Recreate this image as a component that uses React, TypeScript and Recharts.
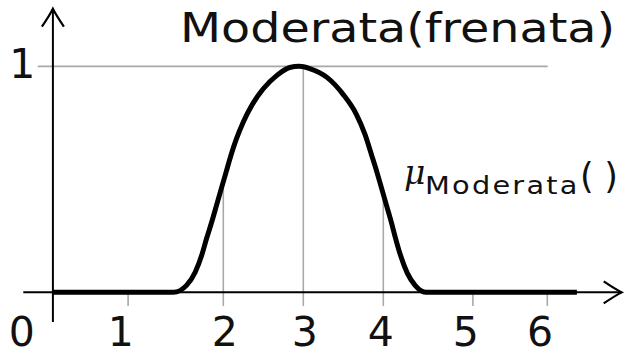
import { LineChart, Line, XAxis, YAxis, ReferenceLine } from "recharts";

// membership curve
const curveX = [
  -0.13, 1.375, 1.54, 1.65, 1.73, 1.79, 1.855, 1.915, 1.975, 2.035, 2.095, 2.165, 2.25, 2.355, 2.5, 2.67, 2.83, 2.95,
  3.08, 3.3, 3.5, 3.66, 3.77, 3.855, 3.92, 3.98, 4.04, 4.1, 4.155, 4.215, 4.3, 4.4, 4.54, 6.42,
];
const curveY = [
  0, 0, 0.031, 0.09, 0.164, 0.237, 0.311, 0.385, 0.459, 0.532, 0.606, 0.68, 0.754, 0.827, 0.901, 0.96, 0.995, 1,
  0.99, 0.95, 0.875, 0.79, 0.7, 0.606, 0.532, 0.459, 0.385, 0.311, 0.237, 0.164, 0.085, 0.03, 0, 0,
];

// x labels sit a bit off the tick marks in the original
const tickLabels = ["0", "1", "2", "3", "4", "5", "6"];
const tickLabelPos = [-0.52, 0.72, 2.02, 3.02, 3.97, 5.03, 5.96];

// gray tick marks / drop lines
const guideX = [0.81, 2, 3, 4, 5.12, 6.05];
const guideTop = [0, 0.46, 1, 0.43, 0, 0];
const guideBottom = -0.06;

const yTicks = [1];

const data = curveX.map((x, i) => ({ x, y: curveY[i] }));

const FONT = "'DejaVu Sans', sans-serif";
const GRAY = "#a8a8a8";

function XTick(props: any) {
  const { x, y, payload } = props;
  const i = tickLabelPos.indexOf(payload.value);
  return (
    <text x={x} y={y} dy={14} textAnchor="middle" fontFamily={FONT} fontSize={41} fill="#111">
      {tickLabels[i]}
    </text>
  );
}

function YTick(props: any) {
  const { x, y, payload } = props;
  return (
    <text x={x + 15} y={y} dy={11.5} textAnchor="middle" fontFamily={FONT} fontSize={41} fill="#111">
      {payload.value}
    </text>
  );
}

export default function App() {
  return (
    <div style={{ position: "absolute", left: 0, top: 0, width: 625, height: 355, background: "#fff" }}>
      <svg width={0} height={0} style={{ position: "absolute" }}>
        <defs>
          <marker
            id="arrowHead"
            markerUnits="userSpaceOnUse"
            viewBox="-22 -14 26 28"
            refX={0}
            refY={0}
            markerWidth={26}
            markerHeight={28}
            orient="auto"
          >
            <path d="M -18 -11 Q -6 -3 0 0 Q -6 3 -18 11" fill="none" stroke="#000" strokeWidth={2.2} />
          </marker>
        </defs>
      </svg>
      <LineChart width={625} height={355} data={data} margin={{ top: 7.6, right: 1.7, bottom: 0, left: 0 }}>
        <XAxis
          type="number"
          dataKey="x"
          domain={[-0.6, 7]}
          ticks={tickLabelPos}
          interval={0}
          tick={<XTick />}
          tickLine={false}
          axisLine={false}
          height={31}
          allowDataOverflow
        />
        <YAxis
          type="number"
          domain={[-0.14, 1.26]}
          ticks={yTicks}
          interval={0}
          width={15.3}
          tick={<YTick />}
          tickLine={false}
          axisLine={false}
          allowDataOverflow
        />
        {guideX.map((gx, i) => (
          <ReferenceLine
            key={"g" + i}
            segment={[
              { x: gx, y: guideBottom },
              { x: gx, y: guideTop[i] },
            ]}
            stroke={GRAY}
            strokeWidth={1.6}
          />
        ))}
        <ReferenceLine
          segment={[
            { x: -0.32, y: 1 },
            { x: 6.055, y: 1 },
          ]}
          stroke={GRAY}
          strokeWidth={1.6}
        />
        <ReferenceLine
          segment={[
            { x: -0.5, y: 0 },
            { x: 6.98, y: 0 },
          ]}
          stroke="#000"
          strokeWidth={2}
          markerEnd="url(#arrowHead)"
        />
        <ReferenceLine
          segment={[
            { x: -0.13, y: -0.131 },
            { x: -0.13, y: 1.255 },
          ]}
          stroke="#000"
          strokeWidth={2}
          markerEnd="url(#arrowHead)"
        />
        <Line
          type="monotone"
          dataKey="y"
          stroke="#000"
          strokeWidth={5}
          dot={false}
          activeDot={false}
          isAnimationActive={false}
        />
      </LineChart>
      <svg width={625} height={355} style={{ position: "absolute", left: 0, top: 0, pointerEvents: "none" }}>
        <text transform="translate(180,42) scale(1.19,1)" fontFamily={FONT} fontSize={40} fill="#111">
          Moderata(frenata)
        </text>
        <text x={404} y={184} fontFamily="'DejaVu Serif', serif" fontStyle="italic" fontSize={33} fill="#111">
          μ
        </text>
        <text
          transform="translate(425,194) scale(1.2,1)"
          fontFamily={FONT}
          fontSize={24}
          fill="#111"
          textLength={127}
          lengthAdjust="spacing"
        >
          Moderata
        </text>
        <text x={580} y={188} fontFamily={FONT} fontSize={35} fill="#111" textLength={38} lengthAdjust="spacing">
          ()
        </text>
      </svg>
    </div>
  );
}
